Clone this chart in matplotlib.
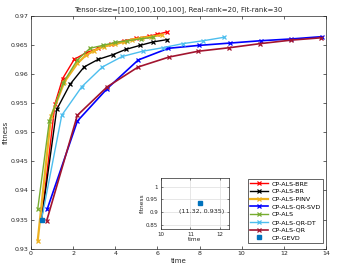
import numpy as np
import matplotlib
matplotlib.use('Agg')
import matplotlib.pyplot as plt

# data
t_bre = [0.5, 1.14, 1.5, 2.05, 2.6, 3.2, 3.8, 4.4, 5.0, 5.6, 6.0, 6.44]
f_bre = [0.935, 0.9549, 0.9592, 0.9625, 0.9636, 0.9644, 0.9651, 0.9657, 0.9661, 0.9665, 0.9668, 0.9672]

t_br = [0.5, 1.22, 1.85, 2.52, 3.19, 3.88, 4.49, 5.17, 5.8, 6.47]
f_br = [0.935, 0.9539, 0.9582, 0.9612, 0.9625, 0.9633, 0.9642, 0.9649, 0.9655, 0.9659]

t_pinv = [0.32, 0.95, 1.58, 2.2, 2.6, 3.0, 3.45, 3.99, 4.4, 4.8, 5.25, 5.7, 6.2]
f_pinv = [0.9314, 0.9527, 0.9586, 0.9618, 0.9632, 0.9640, 0.9647, 0.9651, 0.9655, 0.9659, 0.9662, 0.9664, 0.9667]

t_qrsvd = [0.77, 2.2, 3.62, 5.09, 6.52, 7.97, 9.44, 10.9, 12.33, 13.8]
f_qrsvd = [0.9368, 0.9519, 0.9575, 0.9624, 0.9644, 0.9649, 0.9653, 0.9657, 0.9660, 0.9664]

t_als = [0.32, 0.87, 1.53, 2.2, 2.8, 3.4, 3.99, 4.57, 5.2, 5.8]
f_als = [0.9368, 0.9519, 0.9585, 0.9624, 0.9644, 0.9649, 0.9654, 0.9657, 0.9660, 0.9663]

t_qrdt = [0.5, 1.46, 2.41, 3.39, 4.33, 5.3, 6.25, 7.2, 8.18, 9.17]
f_qrdt = [0.935, 0.9529, 0.9578, 0.9612, 0.9630, 0.9639, 0.9645, 0.9652, 0.9657, 0.9663]

t_qr = [0.745, 2.2, 3.62, 5.09, 6.55, 7.94, 9.41, 10.87, 12.33, 13.75]
f_qr = [0.9348, 0.9529, 0.9578, 0.9612, 0.9629, 0.9639, 0.9645, 0.9652, 0.9658, 0.9662]

t_gevd = [0.5]
f_gevd = [0.935]
inset_t = [11.32]
inset_f = [0.935]

plt.rcParams['font.family'] = 'DejaVu Sans'
fig = plt.figure(figsize=(3.38, 2.70), dpi=100)
ax = fig.add_axes([0.0917, 0.0789, 0.8728, 0.863])

series = [
    (t_bre, f_bre, '#FF0000', 1.0, 'CP-ALS-BRE'),
    (t_br, f_br, '#000000', 1.0, 'CP-ALS-BR'),
    (t_pinv, f_pinv, '#EDB120', 1.6, 'CP-ALS-PINV'),
    (t_qrsvd, f_qrsvd, '#0000FF', 1.2, 'CP-ALS-QR-SVD'),
    (t_als, f_als, '#77AC30', 1.0, 'CP-ALS'),
    (t_qrdt, f_qrdt, '#4DBEEE', 1.0, 'CP-ALS-QR-DT'),
    (t_qr, f_qr, '#A2142F', 1.2, 'CP-ALS-QR'),
]
for t, f, c, lw, lab in series:
    ax.plot(t, f, color=c, lw=lw, marker='x', ms=2.7, mew=0.9, label=lab)
ax.plot(t_gevd, f_gevd, ls='none', marker='s', ms=2.2, color='#0072BD', label='CP-GEVD')

ax.set_xlim(0, 14)
ax.set_ylim(0.93, 0.97)
ax.set_xticks(np.arange(0, 15, 2))
ax.set_yticks([0.93, 0.935, 0.94, 0.945, 0.95, 0.955, 0.96, 0.965, 0.97])
ax.set_yticklabels(['0.93', '0.935', '0.94', '0.945', '0.95', '0.955', '0.96', '0.965', '0.97'])
ax.tick_params(direction='in', top=True, right=True, labelsize=4.5, length=2.5,
               width=0.5, colors='#262626', pad=2)
for s in ax.spines.values():
    s.set_linewidth(0.5)
    s.set_color('#262626')
ax.set_xlabel('time', fontsize=5, labelpad=1, color='#262626')
ax.set_ylabel('fitness', fontsize=5, labelpad=1, color='#262626')
ax.set_title('Tensor-size=[100,100,100,100], Real-rank=20, Fit-rank=30', fontsize=5,
             pad=3, color='#262626')

leg = ax.legend(loc='lower right', bbox_to_anchor=(0.99, 0.024), fontsize=4.6,
                frameon=True, fancybox=False, edgecolor='#262626', framealpha=1,
                handlelength=2.8, handletextpad=0.5, labelspacing=0.35,
                borderpad=0.4, borderaxespad=0)
leg.get_frame().set_linewidth(0.5)

# inset
ins = fig.add_axes([0.476, 0.152, 0.2015, 0.19])
ins.plot(inset_t, inset_f, ls='none', marker='s', ms=2.2, color='#0072BD')
ins.text(11.36, 0.90, '(%.2f, %.3f)' % (inset_t[0], inset_f[0]), fontsize=4.6,
         ha='center', va='center', color='#262626')
ins.set_xlim(10, 12.3)
ins.set_ylim(0.833, 1.035)
ins.set_xticks([10, 11, 12])
ins.set_yticks([0.85, 0.9, 0.95, 1])
ins.set_yticklabels(['0.85', '0.9', '0.95', '1'])
ins.grid(True, color='#DDDDDD', lw=0.5)
ins.tick_params(direction='in', top=True, right=True, labelsize=4, length=1.5,
                width=0.4, colors='#262626', pad=2)
for s in ins.spines.values():
    s.set_linewidth(0.5)
    s.set_color('#262626')
ins.set_xlabel('time', fontsize=4.2, labelpad=0.5, color='#262626')
ins.set_ylabel('fitness', fontsize=4.2, labelpad=0.5, color='#262626')

fig.savefig('out.png', dpi=100)
